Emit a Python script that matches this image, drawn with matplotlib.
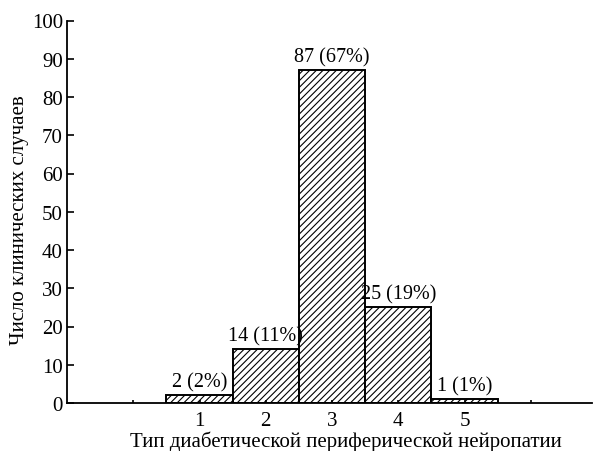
import matplotlib
matplotlib.use("Agg")
import matplotlib.pyplot as plt

types = [1, 2, 3, 4, 5]
counts = [2, 14, 87, 25, 1]
percents = [2, 11, 67, 19, 1]
x_ticks = [0, 1, 2, 3, 4, 5, 6]
x_ticklabels = ["", "1", "2", "3", "4", "5", ""]
y_ticks = [0, 10, 20, 30, 40, 50, 60, 70, 80, 90, 100]

plt.rcParams['font.family'] = ['Liberation Serif', 'DejaVu Serif']
plt.rcParams['hatch.linewidth'] = 0.8

fig = plt.figure(figsize=(5.93, 4.52), dpi=100)
ax = fig.add_axes([67/593, 1 - 404/452, 1 - 67/593 - 0.001, (404 - 21.5)/452])

bars = ax.bar(types, counts, width=1.0, color='white', edgecolor='black',
              linewidth=1.4, hatch='/////')

for xi, c, p in zip(types, counts, percents):
    ax.text(xi, c + 1.0, f"{c} ({p}%)", ha='center', va='bottom', fontsize=14.5)

ax.set_xlim(-1, 6.93)
ax.set_ylim(0, 100)
ax.set_xticks(x_ticks)
ax.set_xticklabels(x_ticklabels, fontsize=15)
ax.set_yticks(y_ticks)
ax.tick_params(axis='y', direction='in', length=5, width=1.2, labelsize=15, pad=3)
ax.tick_params(axis='x', direction='in', length=2.5, width=1.2, labelsize=15, pad=6)

for s in ['top', 'right']:
    ax.spines[s].set_visible(False)
for s in ['left', 'bottom']:
    ax.spines[s].set_linewidth(1.3)

fig.text(20/593, 1 - 220/452, "Число клинических случаев", rotation=90,
         ha='center', va='center', fontsize=15)
fig.text(346/593, 1 - 442/452, "Тип диабетической периферической нейропатии",
         ha='center', va='center', fontsize=15)

fig.savefig("out.png", dpi=100)
